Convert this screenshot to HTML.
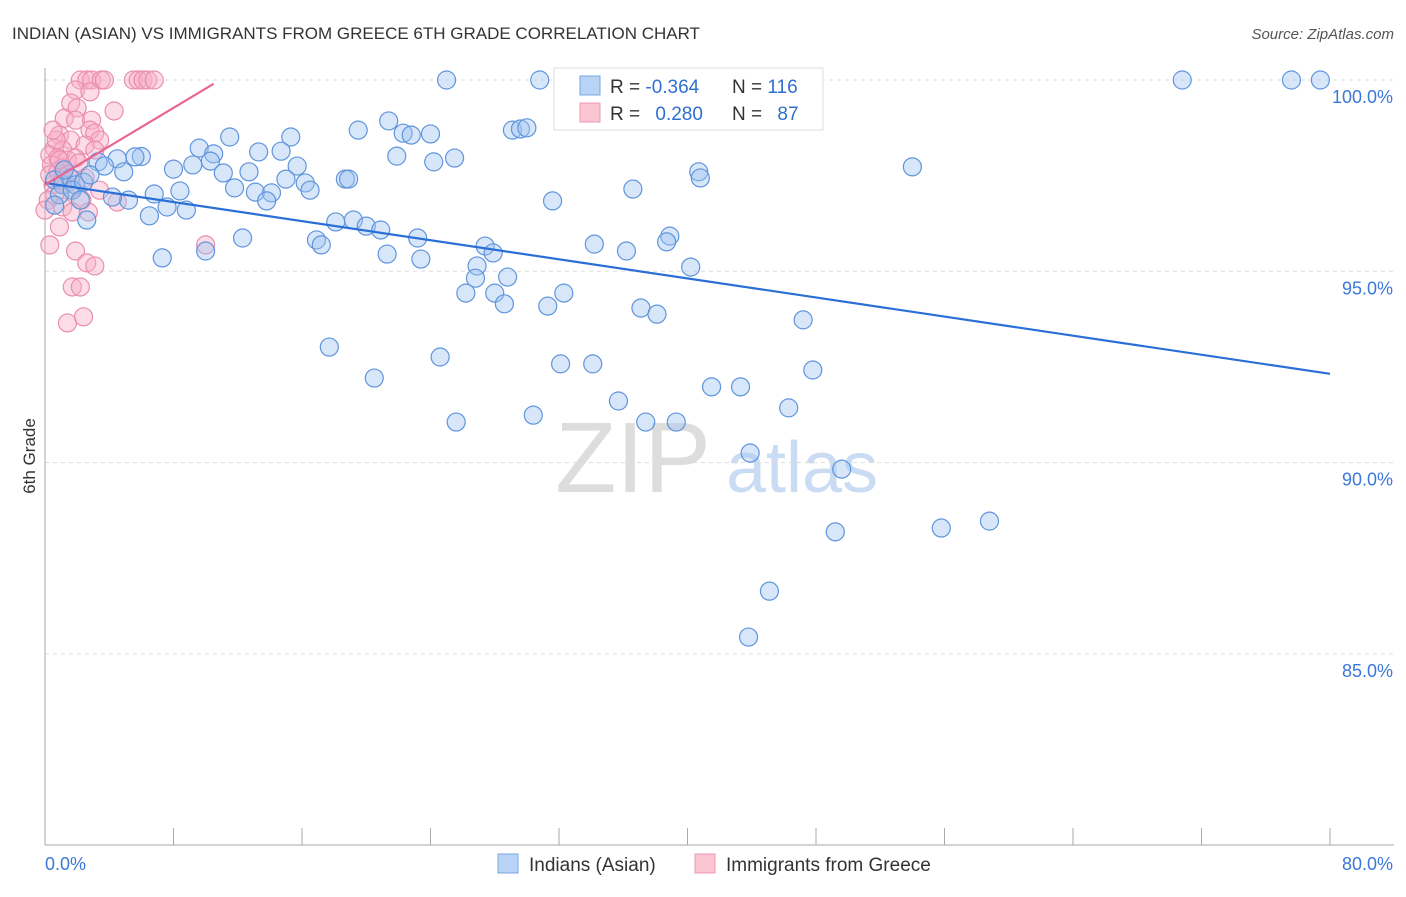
<!DOCTYPE html>
<html><head><meta charset="utf-8"><style>
body{margin:0;background:#fff;font-family:"Liberation Sans",sans-serif}
svg text{font-family:"Liberation Sans",sans-serif}
</style></head><body>
<svg id="c" width="1406" height="892">
<text x="12" y="39" font-size="17" fill="#333">INDIAN (ASIAN) VS IMMIGRANTS FROM GREECE 6TH GRADE CORRELATION CHART</text>
<text x="1394" y="39" font-size="15" fill="#555" text-anchor="end" font-style="italic">Source: ZipAtlas.com</text>
<text x="35" y="456" font-size="17" fill="#333" transform="rotate(-90 35 456)" text-anchor="middle">6th Grade</text>
<text x="633" y="492" font-size="100" fill="#ddd" font-family="Liberation Serif" text-anchor="middle">ZIP</text>
<text x="802" y="492" font-size="72" fill="#c9dcf3" text-anchor="middle">atlas</text>
<g id="grid"></g><g id="pts"></g><g id="lines"></g>
<g>
<rect x="554" y="68" width="269" height="62" fill="#fff" stroke="#ddd"/>
<rect x="580" y="76" width="20" height="19" fill="#b8d3f5" stroke="#7aa6e0"/>
<rect x="580" y="103" width="20" height="19" fill="#fbc5d4" stroke="#eb98b3"/>
<text x="610" y="93" font-size="19" fill="#333">R = <tspan fill="#2f6fd0">-0.364</tspan></text>
<text x="732" y="93" font-size="19" fill="#333">N = <tspan fill="#2f6fd0">116</tspan></text>
<text x="610" y="120" font-size="19" fill="#333">R = <tspan fill="#2f6fd0" dx="10">0.280</tspan></text>
<text x="732" y="120" font-size="19" fill="#333">N = <tspan fill="#2f6fd0" dx="10">87</tspan></text>
</g>
<g>
<rect x="498" y="854" width="20" height="19" fill="#b8d3f5" stroke="#7aa6e0"/>
<text x="529" y="871" font-size="19" fill="#333">Indians (Asian)</text>
<rect x="695" y="854" width="20" height="19" fill="#fbc5d4" stroke="#eb98b3"/>
<text x="726" y="871" font-size="19" fill="#333">Immigrants from Greece</text>
</g>
</svg>
<script>
const yTicks=[100,95,90,85];
const yTickLabels=["100.0%","95.0%","90.0%","85.0%"];
const xTicks=[0,8,16,24,32,40,48,56,64,72,80];
const blueX=[25.0,30.8,46.8,70.8,77.6,79.4,21.4,29.1,29.6,30.0,19.5,22.3,22.8,24.0,15.3,11.5,9.6,13.3,14.7,10.5,21.9,25.5,24.2,6.0,5.6,4.5,3.3,3.7,9.2,10.3,8.0,15.7,54.0,40.7,40.8,12.7,11.1,4.9,15.0,18.7,18.9,16.2,16.5,11.8,36.6,8.4,13.1,14.1,6.8,13.8,5.2,4.2,31.6,7.6,8.8,6.5,2.6,18.1,19.2,20.0,20.9,12.3,16.9,17.2,23.2,38.9,38.7,27.4,34.2,36.2,10.0,27.9,21.3,7.3,23.4,26.9,40.2,28.8,26.8,26.2,28.0,32.3,28.6,31.3,37.1,38.1,47.2,17.7,24.6,32.1,34.1,47.8,20.5,41.5,43.3,35.7,46.3,30.4,25.6,37.4,39.3,43.9,49.6,58.8,55.8,49.2,45.1,43.8,0.6,1.1,1.6,1.9,0.9,1.7,2.4,2.2,0.6,1.2,2.8];
const blueY=[100,100,100,100,100,100,98.93,98.69,98.72,98.75,98.69,98.61,98.56,98.59,98.51,98.51,98.22,98.12,98.14,98.07,98.01,97.96,97.86,98.0,97.99,97.94,97.86,97.75,97.78,97.88,97.67,97.75,97.73,97.6,97.44,97.6,97.57,97.6,97.41,97.41,97.41,97.31,97.12,97.18,97.15,97.1,97.07,97.05,97.02,96.84,96.86,96.94,96.84,96.68,96.6,96.45,96.34,96.29,96.34,96.18,96.08,95.87,95.82,95.69,95.87,95.92,95.77,95.66,95.71,95.53,95.53,95.48,95.45,95.35,95.32,95.14,95.11,94.85,94.82,94.43,94.43,94.43,94.15,94.09,94.04,93.88,93.73,93.02,92.76,92.58,92.58,92.42,92.21,91.98,91.98,91.61,91.43,91.24,91.06,91.06,91.06,90.25,89.83,88.47,88.29,88.19,86.64,85.44,97.39,97.26,97.44,97.26,97.0,97.12,97.33,96.86,96.73,97.65,97.52];
const pinkX=[2.2,2.6,2.9,3.5,3.7,5.5,5.8,6.1,6.4,6.8,1.9,2.8,1.6,2.0,4.3,1.2,1.9,2.9,2.8,3.1,0.9,1.6,3.4,2.5,0.6,1.1,0.3,0.8,1.4,1.9,0.4,1.1,0.3,0.8,1.4,0.5,1.1,1.7,0.6,0.2,3.4,2.3,4.5,1.1,1.7,2.7,0.9,0.3,1.9,10.0,2.6,3.1,1.7,2.2,1.4,2.4,0.7,0.5,1.3,0,2.5,2.1,0.9,3.1];
const pinkY=[100,100,100,100,100,100,100,100,100,100,99.74,99.69,99.4,99.27,99.19,99.0,98.95,98.95,98.69,98.61,98.56,98.43,98.43,98.3,98.22,98.17,98.04,97.96,97.91,97.96,97.78,97.7,97.52,97.6,97.52,97.26,97.39,97.18,97.0,96.86,97.12,96.86,96.81,96.68,96.55,96.55,96.16,95.69,95.53,95.69,95.22,95.14,94.59,94.59,93.65,93.81,98.43,98.69,97.26,96.6,97.44,97.83,97.91,98.17];
const blueTrend=[[0,97.31],[80,92.32]];
const pinkTrend=[[0,97.26],[10.5,99.9]];
const X=v=>45+v/80*1285, Y=v=>80+(100-v)*38.26;
const NS="http://www.w3.org/2000/svg";
function mk(t,a,p){const e=document.createElementNS(NS,t);for(const k in a)e.setAttribute(k,a[k]);p.appendChild(e);return e;}
const g=document.getElementById('grid');
yTicks.forEach((t,i)=>{
 const l=mk('line',{x1:45,x2:1394,y1:Y(t),y2:Y(t),stroke:'#ddd','stroke-dasharray':'4,4'},g);
 
 
 const tx=mk('text',{x:1393,y:Y(t)+23,'font-size':18,fill:'#3b78d8','text-anchor':'end'},g);
 tx.textContent=yTickLabels[i];
 
 
});
const ya=mk('line',{x1:45,x2:45,y1:68,y2:845,stroke:'#aaa'},g);


const xa=mk('line',{x1:45,x2:1394,y1:845,y2:845,stroke:'#aaa'},g);


xTicks.forEach(t=>{
 const l=mk('line',{x1:X(t),x2:X(t),y1:828,y2:845,stroke:'#aaa'},g);
 
 
});
[[0,'0.0%','start',45],[80,'80.0%','end',1393]].forEach(a=>{
 const tx=mk('text',{x:a[3],y:870,'font-size':18,fill:'#3b78d8','text-anchor':a[2]},g);
 tx.textContent=a[1];
 
 
});
const p=document.getElementById('pts');
pinkX.forEach((x,i)=>{
 const c=mk('circle',{cx:X(x),cy:Y(pinkY[i]),r:9,fill:'rgba(248,175,198,0.42)',stroke:'#ea8fad','stroke-width':1.2},p);
 
 
});
blueX.forEach((x,i)=>{
 const c=mk('circle',{cx:X(x),cy:Y(blueY[i]),r:9,fill:'rgba(160,196,240,0.42)',stroke:'#5f95dc','stroke-width':1.2},p);
 
 
});
const L=document.getElementById('lines');
const bl=mk('line',{x1:X(blueTrend[0][0]),y1:Y(blueTrend[0][1]),x2:X(blueTrend[1][0]),y2:Y(blueTrend[1][1]),stroke:'#2a6fd6','stroke-width':2.2},L);


const pl=mk('line',{x1:X(pinkTrend[0][0]),y1:Y(pinkTrend[0][1]),x2:X(pinkTrend[1][0]),y2:Y(pinkTrend[1][1]),stroke:'#e8668f','stroke-width':2.2},L);


</script>
</body></html>
